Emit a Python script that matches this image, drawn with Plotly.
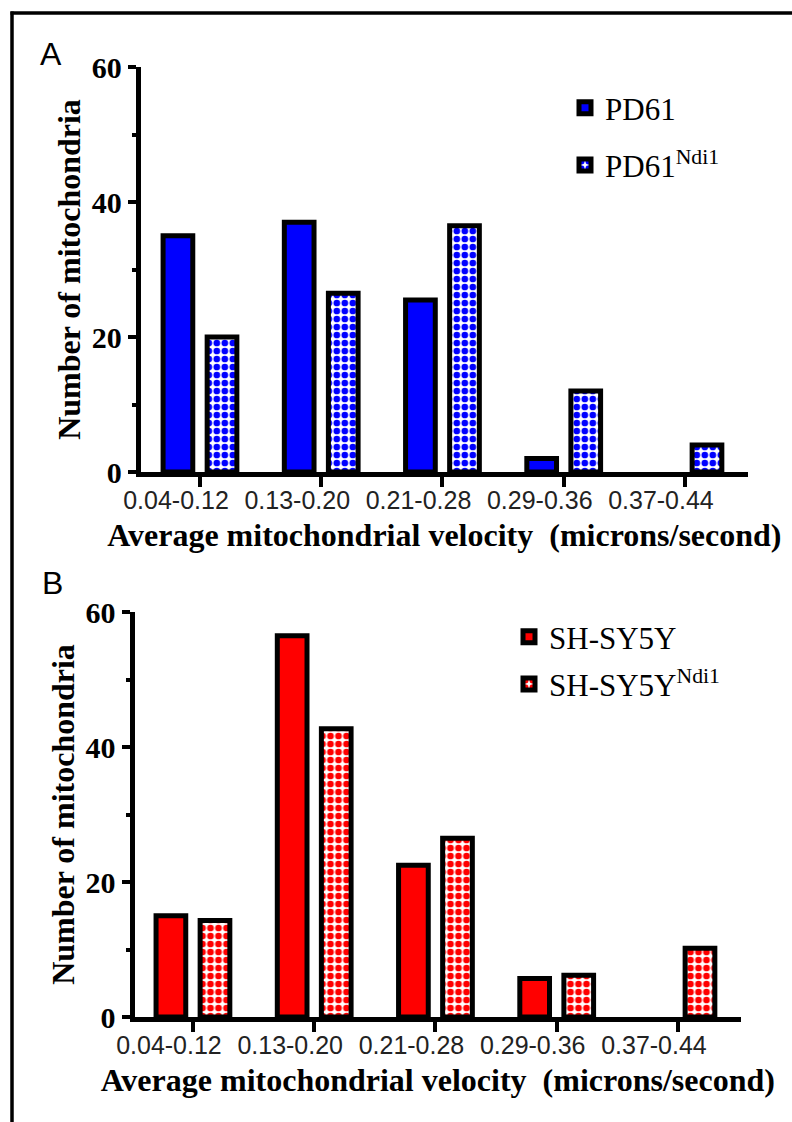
import plotly.graph_objects as go

# ---------------- data ----------------
categories = ["0.04-0.12", "0.13-0.20", "0.21-0.28", "0.29-0.36", "0.37-0.44"]
pd61 = [35, 37, 25.5, 2, 0]
pd61_ndi1 = [20, 26.5, 36.5, 12, 4]
shsy5y = [15, 56.5, 22.5, 5.7, 0]
shsy5y_ndi1 = [14.3, 42.7, 26.5, 6.2, 10.2]
y_ticks = [0, 20, 40, 60]
x_title = "Average mitochondrial velocity \u00a0(microns/second)"
y_title = "Number of mitochondria"

W, H = 792, 1122


def px(x):
    return x / W


def py(y):
    return 1 - y / H


BLUE = "#0000FF"
RED = "#FF0000"


def outline(values):
    # no outline for empty bins (no bar drawn)
    return dict(color="black", width=[5 if v > 0 else 0 for v in values])


def checker(color):
    return dict(shape=".", fgcolor=color, bgcolor="white", size=8,
                solidity=0.55, fillmode="replace")


fig = go.Figure()
fig.add_bar(x=categories, y=pd61, name="PD61", legendgroup="a1",
            marker=dict(color=BLUE, line=outline(pd61)),
            xaxis="x", yaxis="y", legend="legend")
fig.add_bar(x=categories, y=pd61_ndi1, name="PD61<sup>Ndi1</sup>", legendgroup="a2",
            marker=dict(color=BLUE, line=outline(pd61_ndi1), pattern=checker(BLUE)),
            xaxis="x", yaxis="y", legend="legend")
fig.add_bar(x=categories, y=shsy5y, name="SH-SY5Y", legendgroup="b1",
            marker=dict(color=RED, line=outline(shsy5y)),
            xaxis="x2", yaxis="y2", legend="legend2")
fig.add_bar(x=categories, y=shsy5y_ndi1, name="SH-SY5Y<sup>Ndi1</sup>", legendgroup="b2",
            marker=dict(color=RED, line=outline(shsy5y_ndi1), pattern=checker(RED)),
            xaxis="x2", yaxis="y2", legend="legend2")

serif_bold = dict(family="Liberation Serif", size=30, color="black", weight="bold")
sans_tick = dict(family="Liberation Sans", size=25, color="#222222")
title_font = dict(family="Liberation Serif", size=32, color="black", weight="bold")

common_x = dict(type="category", showline=True, linewidth=5, linecolor="black",
                ticks="outside", ticklen=10, tickwidth=4, tickcolor="black",
                tickfont=sans_tick, ticklabelshift=-24, ticklabelstandoff=-8,
                showgrid=False, zeroline=False, fixedrange=True,
                title=dict(text=x_title, font=title_font, standoff=12))
common_y = dict(range=[0, 60], tickvals=y_ticks, showline=True, linewidth=5,
                linecolor="black", ticks="outside", ticklen=8, tickwidth=4,
                tickcolor="black", tickfont=serif_bold, showgrid=False,
                zeroline=False, fixedrange=True,
                title=dict(text=y_title, font=title_font, standoff=3),
                minor=dict(dtick=10, ticks="outside", ticklen=4, tickwidth=4,
                           tickcolor="black", showgrid=False))

fig.update_layout(
    width=W, height=H,
    margin=dict(l=0, r=0, t=0, b=0, autoexpand=False),
    paper_bgcolor="white", plot_bgcolor="white",
    barmode="group", bargap=0.273, bargroupgap=0.326,
    showlegend=True,
    xaxis=dict(common_x, domain=[px(140.8), px(748)], range=[-0.488, 4.52], anchor="y"),
    yaxis=dict(common_y, domain=[py(472), py(67)], anchor="x"),
    xaxis2=dict(common_x, domain=[px(134.5), px(741)], range=[-0.482, 4.52], anchor="y2"),
    yaxis2=dict(common_y, domain=[py(1017), py(612)], anchor="x2"),
    legend=dict(x=px(565), y=py(81), xanchor="left", yanchor="top",
                font=dict(family="Liberation Serif", size=31, color="black"),
                bgcolor="rgba(0,0,0,0)", tracegroupgap=14),
    legend2=dict(x=px(509), y=py(610), xanchor="left", yanchor="top",
                 font=dict(family="Liberation Serif", size=31, color="black"),
                 bgcolor="rgba(0,0,0,0)", tracegroupgap=4),
)

label_font = dict(family="Liberation Sans", size=32, color="black")
annotations = [
    dict(text="A", x=px(38), y=py(54), xanchor="left", yanchor="middle", font=label_font),
    dict(text="B", x=px(40), y=py(583), xanchor="left", yanchor="middle", font=label_font),
]
for a in annotations:
    a.update(xref="paper", yref="paper", showarrow=False)
fig.update_layout(annotations=annotations)

# frame: top and left edges of the figure border
frame = dict(color="black", width=3.5)
fig.add_shape(type="line", xref="paper", yref="paper",
              x0=px(10.5), x1=1, y0=py(13), y1=py(13), line=frame)
fig.add_shape(type="line", xref="paper", yref="paper",
              x0=px(12), x1=px(12), y0=0, y1=py(11.5), line=frame)

page_fix = (
    "var s=document.createElement('style');"
    "s.innerHTML='html,body{margin:0 !important;padding:0 !important;overflow:hidden !important;}';"
    "document.head.appendChild(s);"
    "var d=document.getElementById('{plot_id}');"
    "d.style.position='fixed';d.style.left='0px';d.style.top='0px';"
)
fig.write_html("out.html", config={"displayModeBar": False}, post_script=page_fix)
